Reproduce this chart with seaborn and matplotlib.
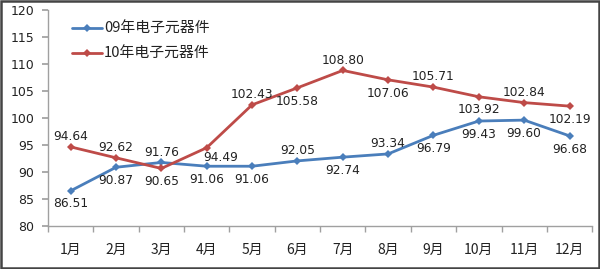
import matplotlib
matplotlib.use("Agg")
import matplotlib.pyplot as plt
import seaborn as sns
import pandas as pd
import numpy as np
from matplotlib.patches import Rectangle

months = ["1月", "2月", "3月", "4月", "5月", "6月", "7月", "8月", "9月", "10月", "11月", "12月"]
s09_name = "09年电子元器件"
s10_name = "10年电子元器件"
s09 = [86.51, 90.87, 91.76, 91.06, 91.06, 92.05, 92.74, 93.34, 96.79, 99.43, 99.60, 96.68]
s10 = [94.64, 92.62, 90.65, 94.49, 102.43, 105.58, 108.80, 107.06, 105.71, 103.92, 102.84, 102.19]
y_ticks = [80, 85, 90, 95, 100, 105, 110, 115, 120]

# label placement: offsets in points (dx, dy)
A, B = 7.5, -9.5
off09 = [(0, B), (0, B), (0, A), (0, B), (0, B), (0, A),
         (0, B), (0, A), (0, B), (0, B), (0, B), (0, B)]
off10 = [(0, A), (0, A), (0, B), (10, -7), (0, A), (0, B),
         (0, A), (0, B), (0, A), (0, B), (0, A), (0, B)]

sns.set_theme(style="white")
plt.rcParams["font.family"] = ["Noto Sans CJK SC", "DejaVu Sans"]

blue = "#4a7ebb"
red = "#be4b48"

df = pd.DataFrame({
    "idx": list(range(12)) * 2,
    "value": s09 + s10,
    "series": [s09_name] * 12 + [s10_name] * 12,
})

fig = plt.figure(figsize=(6.0, 2.69), dpi=100)
ax = fig.add_axes([0.08, 0.16, 0.907, 0.803])

sns.lineplot(data=df, x="idx", y="value", hue="series", style="series",
             palette={s09_name: blue, s10_name: red},
             markers={s09_name: "D", s10_name: "D"},
             dashes={s09_name: "", s10_name: ""},
             markersize=4.5, linewidth=2.0, markeredgewidth=0, ax=ax)

for vals, offs in ((s09, off09), (s10, off10)):
    for i, (v, o) in enumerate(zip(vals, offs)):
        ax.annotate(f"{v:.2f}", (i, v), xytext=o, textcoords="offset points",
                    ha="center", va="center", fontsize=8.8, color="#222222",
                    family=["DejaVu Sans"])

ax.set_xlim(-0.5, 11.5)
ax.set_ylim(80, 120)
ax.set_yticks(y_ticks)
ax.set_yticklabels([str(t) for t in y_ticks], fontsize=9, family=["DejaVu Sans"], color="#222222")
ax.set_xticks(range(12))
ax.set_xticklabels(months, fontsize=10, color="#222222")
ax.set_xticks(np.arange(-0.5, 12, 1), minor=True)
ax.tick_params(axis="x", which="major", length=0, pad=12.5)
ax.tick_params(axis="x", which="minor", length=4, color="#a0a0a0", direction="out", bottom=True)
ax.tick_params(axis="y", length=4, color="#a0a0a0", direction="out", left=True, pad=6)
ax.set_xlabel("")
ax.set_ylabel("")
for side in ("top", "right"):
    ax.spines[side].set_visible(False)
for side in ("left", "bottom"):
    ax.spines[side].set_color("#a0a0a0")
    ax.spines[side].set_linewidth(1.0)

leg = ax.legend(loc="upper left", bbox_to_anchor=(0.044, 0.945), frameon=False,
                fontsize=10.7, handlelength=2.05, handletextpad=0.1, labelspacing=0.75,
                borderpad=0, borderaxespad=0)
for t in leg.get_texts():
    t.set_color("#222222")

fig.patches.append(Rectangle((0.002, 0.004), 0.996, 0.992, transform=fig.transFigure,
                             fill=False, edgecolor="#444444", linewidth=1.8))

fig.savefig("out.png", dpi=100)
